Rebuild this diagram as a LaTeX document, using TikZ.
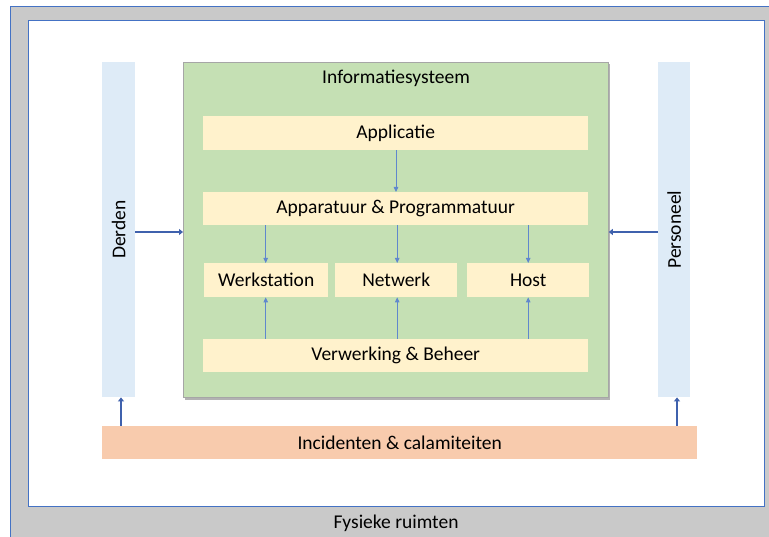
\documentclass[tikz,border=0pt]{standalone}
\usepackage{fontspec}
\setmainfont{Carlito}
\usetikzlibrary{arrows.meta}
\definecolor{lblue}{HTML}{DEEBF7}
\definecolor{lgreen}{HTML}{C5E0B4}
\definecolor{lyellow}{HTML}{FFF2CC}
\definecolor{lorange}{HTML}{F8CBAD}
\definecolor{lgray}{HTML}{C9C9C9}
\definecolor{accent}{HTML}{4472C4}
\definecolor{dkblue}{HTML}{3F61AD}
\tikzset{
  box/.style={draw=none, minimum height=0pt, inner sep=0pt, font=\fontsize{19.5}{23}\selectfont},
  yel/.style={box, fill=lyellow},
  thin arrow/.style={draw=accent!85, line width=0.8pt, -{Triangle[length=5pt,width=4.5pt]}},
  thick arrow/.style={draw=dkblue, line width=2.6pt, -{Triangle[length=4pt,width=6pt]}},
}
\begin{document}
\begin{tikzpicture}[x=1pt,y=-1pt]
\useasboundingbox (0,0) rectangle (769,537);
\clip (0,0) rectangle (769,537);
% outer gray
\draw[draw=accent, fill=lgray, line width=0.8pt] (10,6) rectangle (790,560);
\node[box, anchor=center] (fys) at (396,523) {Fysieke ruimten};
% inner white
\draw[draw=accent, fill=white, line width=0.8pt] (28,20) rectangle (764,506);
% green box
\fill[black!30] (185,64) rectangle (610,400);
\node[box, draw=black!35, line width=0.8pt, fill=lgreen, minimum width=425pt, minimum height=335pt, anchor=north west] (info) at (183,62) {};
\node[box, anchor=center] (infot) at (396,78) {Informatiesysteem};
% side boxes
\node[box, fill=lblue, minimum width=33pt, minimum height=335pt, anchor=north west] (derden) at (102,62) {};
\node[box, rotate=90] at (derden.center) {Derden};
\node[box, fill=lblue, minimum width=32pt, minimum height=335pt, anchor=north west] (pers) at (658,62) {};
\node[box, rotate=90] at (pers.center) {Personeel};
% orange
\node[box, fill=lorange, minimum width=595pt, minimum height=33pt, anchor=north west] (inc) at (102,426) {Incidenten \& calamiteiten};
% yellow boxes
\node[yel, minimum width=385pt, minimum height=34pt, anchor=north west] (app) at (203,116) {Applicatie};
\node[yel, minimum width=385pt, minimum height=33pt, anchor=north west] (hw) at (203,192) {Apparatuur \& Programmatuur};
\node[yel, minimum width=124pt, minimum height=34pt, anchor=north west] (ws) at (204,263) {Werkstation};
\node[yel, minimum width=122pt, minimum height=34pt, anchor=north west] (nw) at (335,263) {Netwerk};
\node[yel, minimum width=122pt, minimum height=34pt, anchor=north west] (host) at (467,263) {Host};
\node[yel, minimum width=385pt, minimum height=33pt, anchor=north west] (vb) at (203,339) {Verwerking \& Beheer};
% thin arrows
\draw[thin arrow] (app.south -| 396,0) -- (hw.north -| 396,0);
\draw[thin arrow] (hw.south -| ws.center) ++(-0.5,0) coordinate (a1) -- (a1 |- ws.north);
\draw[thin arrow] (hw.south -| nw.center) ++(1,0) coordinate (a2) -- (a2 |- nw.north);
\draw[thin arrow] (hw.south -| host.center) ++(0,0) coordinate (a3) -- (a3 |- host.north);
\draw[thin arrow] (vb.north -| a1) -- (ws.south -| a1);
\draw[thin arrow] (vb.north -| a2) -- (nw.south -| a2);
\draw[thin arrow] (vb.north -| a3) -- (host.south -| a3);
% thick arrows
\draw[thick arrow] (derden.east |- 0,232) -- (info.west |- 0,232);
\draw[thick arrow] (pers.west |- 0,232) -- (info.east |- 0,232);
\draw[thick arrow] (inc.north -| 121,0) -- (derden.south -| 121,0);
\draw[thick arrow] (inc.north -| 677,0) -- (pers.south -| 677,0);
\end{tikzpicture}
\end{document}
